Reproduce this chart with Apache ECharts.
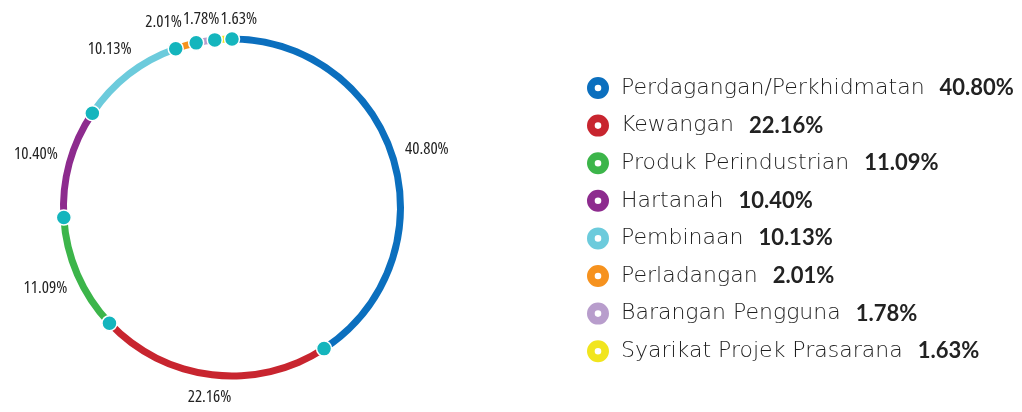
<!DOCTYPE html>
<html>
<head>
<meta charset="utf-8">
<script src="https://cdn.jsdelivr.net/npm/echarts@6/dist/echarts.min.js"></script>
<style>
  html, body { margin: 0; padding: 0; background: #fff; }
  #chart { width: 1022px; height: 412px; }
</style>
</head>
<body>
<div id="chart"></div>
<script>
// sector breakdown (percent)
const sectors = [
  'Perdagangan/Perkhidmatan', 'Kewangan', 'Produk Perindustrian', 'Hartanah',
  'Pembinaan', 'Perladangan', 'Barangan Pengguna', 'Syarikat Projek Prasarana'
]
const shares = [40.80, 22.16, 11.09, 10.40, 10.13, 2.01, 1.78, 1.63]
const colors = ['#0b6fbe', '#c8252f', '#3cb54a', '#8d2b8e', '#6ccbdc', '#f6921e', '#b89dcc', '#f1e51e']

const center = [232, 207.5]
const outerR = 172
const labelGap = 8
const labelSize = 17
// condensed Open Sans, close to the narrow face of the original labels
const labelFont = `normal condensed ${labelSize}px "Open Sans"`

// ring icon with a white hole, like the legend dots
const ringIcon = 'path://M10,0A10,10,0,1,1,10,20A10,10,0,1,1,10,0ZM10,7A3,3,0,1,0,10,13A3,3,0,1,0,10,7Z'

const shareByName = {}
sectors.forEach((s, i) => { shareByName[s] = shares[i] })
const fmt = v => v.toFixed(2) + '%'

// cumulative start of each slice; the teal markers sit on these
const starts = []
let acc = 0
for (const v of shares) {
  starts.push(acc)
  acc += v
}
const boundaries = starts.map(s => [1, s])

// label spots: just outside the ring at each slice's middle,
// then nudge sideways where the small top slices collide
const ctx = document.createElement('canvas').getContext('2d')
ctx.font = labelFont
const spots = shares.map((v, i) => {
  const a = (starts[i] + v / 2) / 100 * Math.PI * 2
  const ux = Math.sin(a)
  const uy = -Math.cos(a)
  const w = ctx.measureText(fmt(v)).width
  const h = 16
  const d = outerR + labelGap + Math.abs(ux) * w / 2 + Math.abs(uy) * h / 2
  return { x: center[0] + ux * d, y: center[1] + uy * d, w, h }
})
for (let it = 0; it < 60; it++) {
  for (let i = 0; i < spots.length; i++) {
    for (let j = i + 1; j < spots.length; j++) {
      const p = spots[i], q = spots[j]
      const ox = (p.w + q.w) / 2 + 1 - Math.abs(p.x - q.x)
      const oy = (p.h + q.h) / 2 - Math.abs(p.y - q.y)
      if (ox > 0 && oy > 0) {
        const s = p.x < q.x ? -1 : 1
        p.x += s * ox / 2
        q.x -= s * ox / 2
      }
    }
  }
}

function placeLabel(params) {
  const p = spots[params.dataIndex]
  return { x: p.x, y: p.y, align: 'center', verticalAlign: 'middle' }
}

const chart = echarts.init(document.getElementById('chart'))
chart.setOption({
  backgroundColor: '#fff',
  animation: false,
  color: colors,
  polar: { center: center, radius: outerR - 3.5 },
  angleAxis: { type: 'value', min: 0, max: 100, startAngle: 90, clockwise: true, show: false },
  radiusAxis: { type: 'value', min: 0, max: 1, show: false },
  legend: {
    orient: 'vertical',
    left: 582,
    top: 72,
    itemWidth: 22,
    itemHeight: 22,
    itemGap: 15.6,
    icon: ringIcon,
    selectedMode: false,
    textStyle: {
      rich: {
        n: { fontFamily: 'DejaVu Sans', fontSize: 22, fontWeight: 200, color: '#1e1e1e', padding: [0, 0, 0, 7] },
        v: { fontFamily: 'Lato', fontSize: 22, fontWeight: 'bold', color: '#222', padding: [0, 0, 0, 15] }
      }
    },
    formatter: name => `{n|${name}}{v|${fmt(shareByName[name])}}`,
    data: sectors
  },
  series: [
    {
      type: 'pie',
      center: center,
      radius: [outerR - 7, outerR],
      startAngle: 90,
      clockwise: true,
      avoidLabelOverlap: false,
      label: {
        show: true,
        position: 'outside',
        overflow: 'none',
        fontFamily: '"Open Sans"',
        fontWeight: 'condensed',
        fontSize: labelSize,
        color: '#222',
        formatter: p => fmt(p.value)
      },
      labelLine: { show: false },
      labelLayout: placeLabel,
      emphasis: { disabled: true },
      data: sectors.map((s, i) => ({ name: s, value: shares[i] }))
    },
    {
      type: 'scatter',
      coordinateSystem: 'polar',
      symbolSize: 15,
      itemStyle: { color: '#14b5bd', opacity: 1, borderColor: '#fff', borderWidth: 1.5 },
      silent: true,
      z: 5,
      data: boundaries
    }
  ]
})
</script>
</body>
</html>
